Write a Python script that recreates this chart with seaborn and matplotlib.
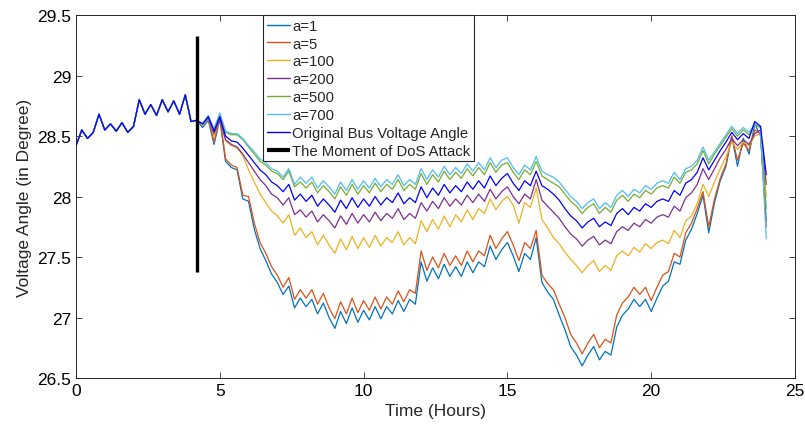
import numpy as np
import pandas as pd
import seaborn as sns
import matplotlib
matplotlib.use("Agg")
import matplotlib.pyplot as plt
from matplotlib.ticker import FormatStrFormatter

# Time axis: 0..24 h sampled every 0.2 h
hours = np.linspace(0, 24, 121)

# Bus voltage angle (degrees) before the DoS attack, t = 0 .. 4.2 h (shared by all cases)
pre_attack = [28.42, 28.55, 28.48, 28.53, 28.68, 28.55, 28.60, 28.54, 28.61, 28.53,
              28.58, 28.80, 28.68, 28.76, 28.67, 28.80, 28.70, 28.79, 28.68, 28.84,
              28.62, 28.63]

# After the attack, t = 4.4 .. 24.0 h
original_post = [28.60, 28.66, 28.54, 28.66, 28.50, 28.46, 28.45, 28.40, 28.34, 28.28,
                 28.22, 28.18, 28.12, 28.09, 28.04, 28.10, 27.97, 28.02, 27.96, 28.01,
                 27.92, 27.98, 27.93, 27.87, 27.97, 27.90, 27.99, 27.91, 27.98, 27.92,
                 28.00, 27.93, 27.99, 27.95, 28.03, 27.94, 27.99, 27.95, 28.08, 27.99,
                 28.07, 28.01, 28.10, 28.03, 28.09, 28.04, 28.12, 28.06, 28.13, 28.07,
                 28.17, 28.09, 28.15, 28.19, 28.11, 28.05, 28.13, 28.09, 28.21, 28.09,
                 28.06, 28.02, 27.97, 27.90, 27.84, 27.80, 27.74, 27.79, 27.82, 27.75,
                 27.79, 27.76, 27.86, 27.90, 27.85, 27.91, 27.88, 27.94, 27.91, 27.96,
                 27.98, 27.96, 28.05, 28.01, 28.11, 28.14, 28.20, 28.32, 28.22, 28.30,
                 28.38, 28.45, 28.53, 28.47, 28.52, 28.48, 28.62, 28.58, 28.18]

a700_post = [28.60, 28.67, 28.56, 28.69, 28.54, 28.52, 28.52, 28.48, 28.42, 28.37,
             28.31, 28.28, 28.23, 28.21, 28.16, 28.23, 28.10, 28.16, 28.11, 28.16,
             28.07, 28.13, 28.08, 28.02, 28.12, 28.05, 28.14, 28.06, 28.13, 28.07,
             28.15, 28.08, 28.14, 28.10, 28.18, 28.09, 28.14, 28.10, 28.23, 28.14,
             28.22, 28.16, 28.25, 28.18, 28.24, 28.19, 28.27, 28.21, 28.28, 28.22,
             28.32, 28.24, 28.30, 28.32, 28.24, 28.18, 28.26, 28.22, 28.33, 28.21,
             28.18, 28.16, 28.12, 28.06, 28.00, 27.96, 27.90, 27.95, 27.98, 27.90,
             27.95, 27.91, 28.01, 28.05, 28.00, 28.06, 28.03, 28.09, 28.06, 28.11,
             28.13, 28.11, 28.20, 28.14, 28.23, 28.25, 28.30, 28.41, 28.30, 28.37,
             28.44, 28.51, 28.58, 28.52, 28.57, 28.53, 28.60, 28.58, 27.65]

a500_post = [28.60, 28.66, 28.55, 28.68, 28.53, 28.51, 28.51, 28.47, 28.41, 28.35,
             28.29, 28.26, 28.21, 28.19, 28.14, 28.21, 28.08, 28.12, 28.07, 28.12,
             28.03, 28.09, 28.04, 27.98, 28.08, 28.01, 28.10, 28.02, 28.09, 28.03,
             28.11, 28.04, 28.10, 28.06, 28.14, 28.05, 28.10, 28.06, 28.19, 28.10,
             28.18, 28.12, 28.21, 28.14, 28.20, 28.15, 28.23, 28.17, 28.24, 28.18,
             28.28, 28.20, 28.26, 28.28, 28.20, 28.14, 28.22, 28.18, 28.29, 28.17,
             28.14, 28.11, 28.08, 28.02, 27.96, 27.92, 27.86, 27.91, 27.94, 27.86,
             27.91, 27.87, 27.97, 28.01, 27.96, 28.02, 27.99, 28.05, 28.02, 28.07,
             28.09, 28.07, 28.16, 28.11, 28.20, 28.22, 28.27, 28.38, 28.27, 28.35,
             28.42, 28.49, 28.56, 28.50, 28.55, 28.51, 28.59, 28.57, 27.90]

a200_post = [28.60, 28.65, 28.52, 28.64, 28.47, 28.43, 28.41, 28.35, 28.28, 28.21,
             28.14, 28.09, 28.02, 27.99, 27.93, 27.99, 27.85, 27.89, 27.83, 27.88,
             27.79, 27.85, 27.80, 27.74, 27.84, 27.77, 27.86, 27.78, 27.85, 27.79,
             27.87, 27.80, 27.86, 27.82, 27.90, 27.81, 27.86, 27.82, 27.95, 27.88,
             27.96, 27.90, 27.99, 27.92, 27.98, 27.93, 28.01, 27.95, 28.02, 27.96,
             28.06, 27.98, 28.04, 28.08, 28.00, 27.94, 28.02, 27.98, 28.14, 27.97,
             27.92, 27.87, 27.82, 27.75, 27.69, 27.65, 27.59, 27.64, 27.67, 27.60,
             27.64, 27.61, 27.71, 27.75, 27.72, 27.78, 27.75, 27.81, 27.78, 27.83,
             27.85, 27.83, 27.92, 27.88, 27.99, 28.03, 28.10, 28.23, 28.14, 28.23,
             28.32, 28.39, 28.48, 28.42, 28.47, 28.43, 28.52, 28.55, 28.10]

a100_post = [28.59, 28.65, 28.50, 28.65, 28.46, 28.42, 28.40, 28.34, 28.22, 28.12,
             28.02, 27.95, 27.88, 27.84, 27.78, 27.85, 27.68, 27.74, 27.66, 27.71,
             27.60, 27.68, 27.60, 27.53, 27.65, 27.56, 27.67, 27.57, 27.66, 27.58,
             27.68, 27.59, 27.66, 27.62, 27.71, 27.60, 27.66, 27.61, 27.80, 27.71,
             27.81, 27.73, 27.84, 27.75, 27.85, 27.79, 27.89, 27.81, 27.90, 27.86,
             27.98, 27.89, 27.96, 28.00, 27.93, 27.78, 27.95, 27.91, 28.07, 27.81,
             27.74, 27.66, 27.61, 27.54, 27.48, 27.43, 27.37, 27.43, 27.47, 27.38,
             27.43, 27.39, 27.51, 27.55, 27.51, 27.58, 27.54, 27.61, 27.57, 27.62,
             27.64, 27.61, 27.72, 27.66, 27.80, 27.84, 27.94, 28.10, 28.00, 28.12,
             28.23, 28.33, 28.45, 28.39, 28.45, 28.42, 28.50, 28.52, 28.00]

a5_post = [28.59, 28.65, 28.45, 28.66, 28.31, 28.26, 28.24, 28.01, 28.00, 27.78,
           27.62, 27.53, 27.42, 27.35, 27.25, 27.33, 27.15, 27.23, 27.16, 27.23,
           27.11, 27.20, 27.08, 26.99, 27.13, 27.03, 27.16, 27.04, 27.14, 27.06,
           27.17, 27.07, 27.17, 27.11, 27.22, 27.13, 27.23, 27.20, 27.55, 27.39,
           27.50, 27.41, 27.53, 27.43, 27.51, 27.43, 27.55, 27.46, 27.55, 27.51,
           27.68, 27.57, 27.65, 27.71, 27.60, 27.47, 27.62, 27.57, 27.72, 27.35,
           27.28, 27.23, 27.11, 27.00, 26.86, 26.79, 26.70, 26.79, 26.86, 26.75,
           26.82, 26.79, 27.02, 27.12, 27.17, 27.25, 27.19, 27.25, 27.14, 27.25,
           27.35, 27.38, 27.53, 27.50, 27.70, 27.78, 27.90, 28.04, 27.75, 27.98,
           28.15, 28.27, 28.50, 28.30, 28.44, 28.38, 28.55, 28.52, 27.75]

a1_post = [28.57, 28.63, 28.43, 28.64, 28.29, 28.24, 28.22, 27.98, 27.96, 27.73,
           27.57, 27.47, 27.36, 27.29, 27.19, 27.26, 27.08, 27.16, 27.09, 27.15,
           27.03, 27.12, 27.00, 26.91, 27.05, 26.95, 27.08, 26.96, 27.06, 26.98,
           27.09, 26.99, 27.09, 27.03, 27.14, 27.05, 27.15, 27.11, 27.46, 27.30,
           27.41, 27.32, 27.44, 27.34, 27.42, 27.34, 27.46, 27.37, 27.46, 27.42,
           27.59, 27.48, 27.56, 27.62, 27.51, 27.38, 27.53, 27.48, 27.66, 27.29,
           27.21, 27.15, 27.02, 26.90, 26.76, 26.69, 26.60, 26.69, 26.76, 26.65,
           26.72, 26.69, 26.92, 27.02, 27.07, 27.15, 27.09, 27.15, 27.05, 27.16,
           27.26, 27.30, 27.46, 27.44, 27.64, 27.73, 27.86, 28.01, 27.70, 27.95,
           28.13, 28.25, 28.50, 28.25, 28.48, 28.35, 28.60, 28.50, 27.80]

series_labels = ["a=1", "a=5", "a=100", "a=200", "a=500", "a=700",
                 "Original Bus Voltage Angle"]
series_post = [a1_post, a5_post, a100_post, a200_post, a500_post, a700_post,
               original_post]
series_colors = ["#0072BD", "#D95319", "#EDB120", "#7E2F8E", "#77AC30", "#4DBEEE",
                 "#0000FF"]

# Moment of the DoS attack
dos_time = 4.2
dos_span = [27.38, 29.33]

frames = []
for label, post in zip(series_labels, series_post):
    frames.append(pd.DataFrame({"Time": hours, "Angle": pre_attack + post,
                                "Case": label}))
df = pd.concat(frames, ignore_index=True)

sns.set_theme(style="ticks")
plt.rcParams["font.family"] = ["Liberation Sans", "DejaVu Sans"]

fig = plt.figure(figsize=(8.05, 4.35), dpi=100)
ax = fig.add_axes([0.0944, 0.1287, 0.8932, 0.8345])

sns.lineplot(data=df, x="Time", y="Angle", hue="Case", hue_order=series_labels,
             palette=series_colors, linewidth=0.9, estimator=None, sort=False, ax=ax)
ax.plot([dos_time, dos_time], dos_span, color="black", linewidth=2.4,
        solid_capstyle="butt", label="The Moment of DoS Attack")

ax.set_xlim(0, 25)
ax.set_ylim(26.5, 29.5)
ax.set_xticks([0, 5, 10, 15, 20, 25])
ax.set_yticks([26.5, 27, 27.5, 28, 28.5, 29, 29.5])
ax.yaxis.set_major_formatter(FormatStrFormatter("%g"))
ax.tick_params(direction="in", length=4, width=0.6, labelsize=12.5,
               top=True, right=True, colors="#262626", labelcolor="black")
for sp in ax.spines.values():
    sp.set_visible(True)
    sp.set_linewidth(0.7)
    sp.set_color("#262626")
ax.set_xlabel("Time (Hours)", fontsize=12.5)
ax.set_ylabel("Voltage Angle (in Degree)", fontsize=12.5)

handles, labels = ax.get_legend_handles_labels()
leg = ax.legend(handles, labels, loc="upper left", bbox_to_anchor=(0.26, 1.0),
                borderaxespad=0, fontsize=10.7, frameon=True, fancybox=False,
                framealpha=1, edgecolor="#262626", handlelength=1.6,
                handletextpad=0.12, labelspacing=0.26, borderpad=0.25)
leg.get_frame().set_linewidth(0.8)
for line in leg.get_lines():
    if line.get_label() == "The Moment of DoS Attack":
        line.set_linewidth(3.0)
    else:
        line.set_linewidth(1.0)

fig.savefig("out.png", dpi=100)
